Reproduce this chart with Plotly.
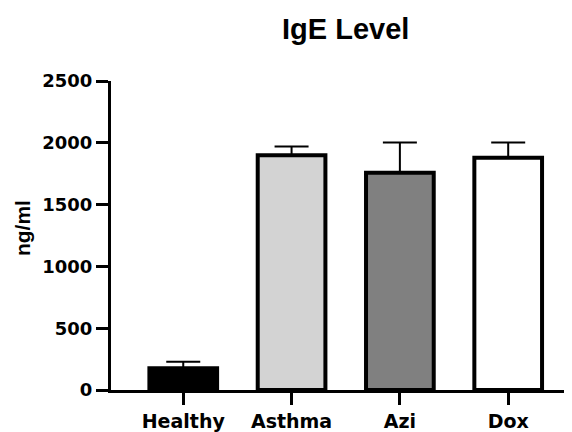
import plotly.graph_objects as go

categories = ["Healthy", "Asthma", "Azi", "Dox"]
means = [175, 1900, 1758, 1879]
errors_up = [53, 70, 244, 123]
fill_colors = ["#000000", "#d3d3d3", "#808080", "#ffffff"]
y_ticks = [0, 500, 1000, 1500, 2000, 2500]

# page body has an 8px margin, so the figure is drawn 8px smaller and offset
OFF = 8
W, H = 572 - OFF, 432 - OFF
ML, MR, MT, MB = 111 - OFF, 0, 81 - OFF, 40
PW, PH = W - ML - MR, H - MT - MB

def px_x(x):
    return (x - OFF - ML) / PW

def px_y(y):
    return 1 - (y - OFF - MT) / PH

fig = go.Figure()
fig.add_trace(go.Bar(
    x=categories,
    y=means,
    width=0.625,
    marker=dict(color=fill_colors, line=dict(color="black", width=4)),
    error_y=dict(type="data", symmetric=False, array=errors_up,
                 arrayminus=[0] * len(categories),
                 color="black", thickness=2, width=17),
    showlegend=False,
))

fig.update_layout(
    width=W, height=H,
    margin=dict(l=ML, r=MR, t=MT, b=MB, pad=0),
    plot_bgcolor="white", paper_bgcolor="white",
    xaxis=dict(
        type="category", range=[-0.667, 3.589],
        showline=True, linecolor="black", linewidth=3,
        ticks="outside", ticklen=12, tickwidth=2.5, tickcolor="black",
        tickfont=dict(family="DejaVu Sans", size=19, color="black", weight="bold"),
        showgrid=False, zeroline=False,
    ),
    yaxis=dict(
        range=[0, 2500], tickvals=y_ticks,
        showline=True, linecolor="black", linewidth=3,
        ticks="outside", ticklen=12, tickwidth=2.5, tickcolor="black",
        tickfont=dict(family="DejaVu Sans", size=18, color="black", weight="bold"),
        showgrid=False, zeroline=False,
    ),
    annotations=[
        dict(text="IgE Level", xref="paper", yref="paper",
             x=px_x(345), y=px_y(29),
             xanchor="center", yanchor="middle", showarrow=False,
             font=dict(family="Liberation Sans", size=29, color="black", weight="bold")),
        dict(text="ng/ml", xref="paper", yref="paper",
             x=px_x(22), y=px_y(229),
             xanchor="center", yanchor="middle", showarrow=False, textangle=-90,
             font=dict(family="Liberation Sans", size=21, color="black", weight="bold")),
    ],
)

fig.write_html("out.html")
